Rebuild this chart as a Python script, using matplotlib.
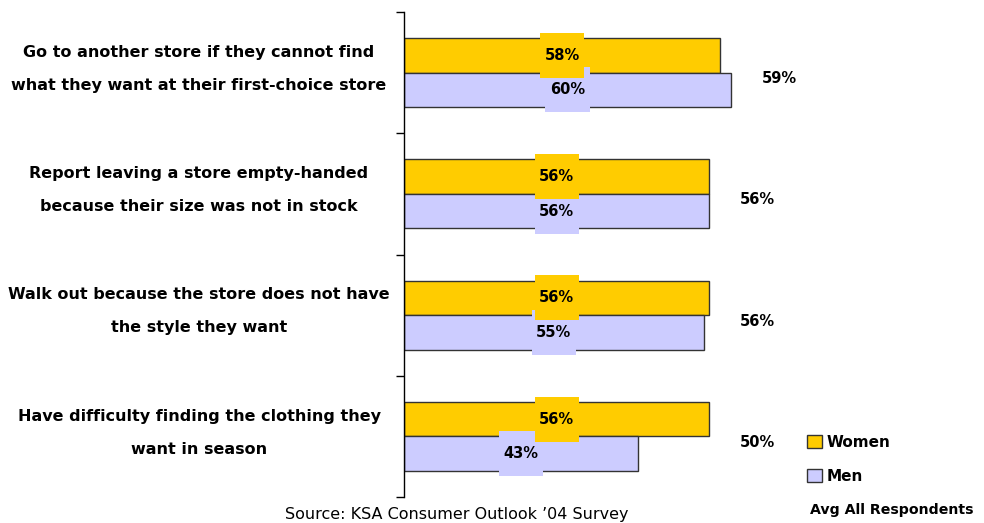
import matplotlib
matplotlib.use('Agg')
import matplotlib.pyplot as plt
import matplotlib.transforms as mtransforms
from matplotlib.patches import Rectangle
import numpy as np

# survey data (percent of respondents)
categories = ["Go to another store if they cannot find\nwhat they want at their first-choice store",
              "Report leaving a store empty-handed\nbecause their size was not in stock",
              "Walk out because the store does not have\nthe style they want",
              "Have difficulty finding the clothing they\nwant in season"]
women = [58, 56, 56, 56]
men   = [60, 56, 55, 43]
avg   = [59, 56, 56, 50]

c_women = '#FFCC00'
c_men   = '#CCCCFF'
fs = 10.5

fig = plt.figure(figsize=(9.84, 5.23), dpi=100)
ax = fig.add_axes([404/984, 26/523, 545/984, 485/523])

y = np.arange(len(categories))
h = 0.285
ax.barh(y - h/2, women, height=h, color=c_women, edgecolor='#333333', linewidth=1, zorder=2)
ax.barh(y + h/2, men, height=h, color=c_men, edgecolor='#333333', linewidth=1, zorder=2)

# value labels sitting on a box in the bar colour
bw, bh = 8.1, 0.37
for i in range(len(categories)):
    for vals, col, yy, z in [(men, c_men, y[i] + h/2, 3), (women, c_women, y[i] - h/2, 5)]:
        xc = vals[i] / 2.0
        ax.add_patch(Rectangle((xc - bw/2, yy - bh/2), bw, bh, facecolor=col,
                               edgecolor='none', zorder=z))
        ax.text(xc, yy, '%d%%' % vals[i], ha='center', va='center', fontsize=fs,
                fontweight='bold', zorder=z + 1)
    # average of all respondents, right of the bars
    off = mtransforms.offset_copy(ax.transData, fig=fig, x=31, y=0, units='dots')
    ax.text(max(women[i], men[i]), y[i] + 0.05, '%d%%' % avg[i], transform=off,
            ha='left', va='center', fontsize=fs, fontweight='bold')

ax.set_xlim(0, 100)
ax.set_ylim(3.5, -0.5)
ax.set_yticks(np.arange(-0.5, 4, 1))
ax.set_yticklabels([])
ax.set_xticks([])
ax.tick_params(axis='y', direction='out', length=6, width=1)
for s in ['top', 'right', 'bottom']:
    ax.spines[s].set_visible(False)
ax.spines['left'].set_linewidth(1)

# category labels, centred in the left margin
trans = mtransforms.blended_transform_factory(fig.transFigure, ax.transData)
for i, lab in enumerate(categories):
    ax.text(199/984, y[i] - 0.03, lab, transform=trans, ha='center', va='center',
            fontsize=11.5, fontweight='bold', linespacing=2.5)

leg = fig.legend(handles=[Rectangle((0, 0), 1, 1, facecolor=c_women, edgecolor='#333333'),
                          Rectangle((0, 0), 1, 1, facecolor=c_men, edgecolor='#333333')],
                 labels=['Women', 'Men'], loc='upper left',
                 bbox_to_anchor=(807/984, 1 - 435/523), frameon=False,
                 handlelength=0.95, handleheight=0.95, handletextpad=0.35,
                 labelspacing=1.25, borderaxespad=0, borderpad=0,
                 prop={'size': fs + 0.5, 'weight': 'bold'})
fig.text(810/984, 1 - 510/523, 'Avg All Respondents', ha='left', va='center',
         fontsize=fs - 0.3, fontweight='bold')
fig.text(457/984, 1 - 514/523, 'Source: KSA Consumer Outlook \u201904 Survey',
         ha='center', va='center', fontsize=11.5)

fig.savefig('out.png', dpi=100)
